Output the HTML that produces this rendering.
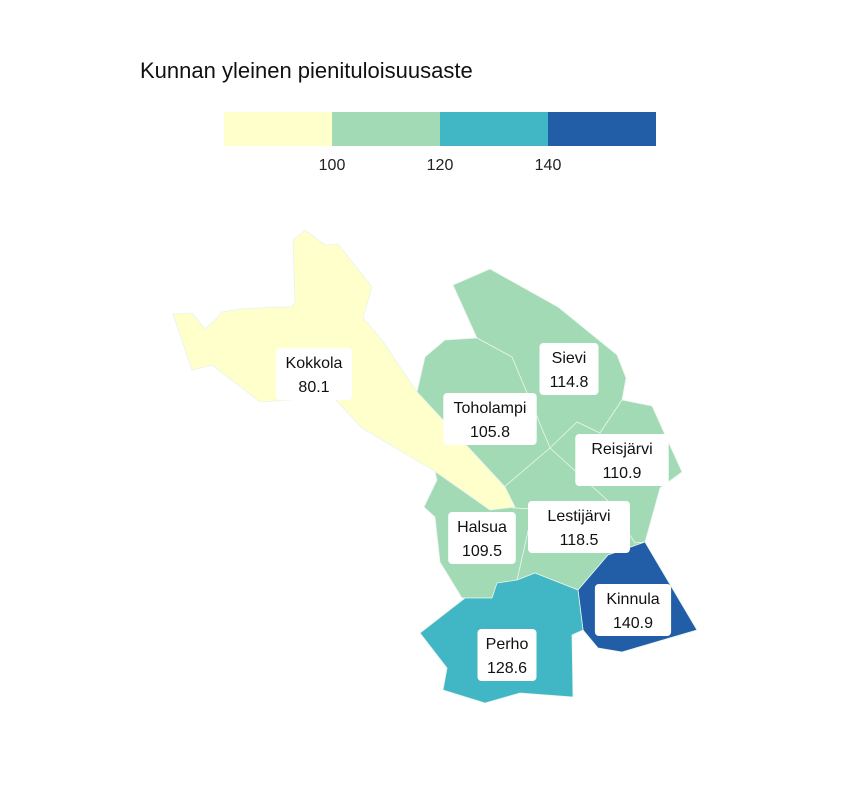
<!DOCTYPE html>
<html><head><meta charset="utf-8"><style>
body{margin:0;background:#fff;}
svg{display:block;font-family:"Liberation Sans",sans-serif;}
</style></head><body>
<svg id="chart" width="864" height="792">
<text x="140" y="78" font-size="22" fill="#111">Kunnan yleinen pienituloisuusaste</text>
<g id="legend"></g>
<g id="map"></g>
<g id="labels"></g>
</svg>
<script>
const municipalities = ["Kokkola","Sievi","Toholampi","Reisjärvi","Lestijärvi","Halsua","Kinnula","Perho"];
const values = [80.1,114.8,105.8,110.9,118.5,109.5,140.9,128.6];
const breaks = [100,120,140];
const colors = ["#ffffcc","#a1dab4","#41b6c4","#225ea8"];
const legendTicks = ["100","120","140"];

const NS="http://www.w3.org/2000/svg";
function colorFor(v){let i=0;while(i<breaks.length&&v>=breaks[i])i++;return colors[i];}
function mk(tag,attrs,parent){const e=document.createElementNS(NS,tag);for(const k in attrs)e.setAttribute(k,attrs[k]);parent.appendChild(e);return e;}

const lg=document.getElementById('legend');
const lx=d=>224+d*108;
colors.forEach((c,i)=>{
  const r=mk('rect',{x:lx(i),y:112,width:108,height:34,fill:c},lg);
  
  
});
legendTicks.forEach((t,i)=>{
  const tx=mk('text',{x:lx(i+1),y:170,'font-size':16,'text-anchor':'middle',fill:'#222'},lg);
  tx.textContent=t;
  
  
});

const shapes={
 "Sievi":"453,285 490,269 558,307 617,355 626,378 622,400 600,433 577,422 550,448 512,357 477,338",
 "Toholampi":"477,338 512,357 550,448 503,488 513,508 505,487 417,392 425,357 445,340",
 "Reisjärvi":"622,400 652,406 682,472 660,488 645,542 635,543 607,500 550,448 577,422 600,433",
 "Lestijärvi":"550,448 607,500 635,543 645,542 608,555 578,590 535,573 517,580 533,509 515,508 503,488",
 "Halsua":"437,480 417,392 505,487 513,508 533,509 517,580 497,585 492,598 462,598 440,562 435,517 424,507",
 "Kokkola":"173,314 192,313 205,329 215,320 222,312 240,309 260,308 273,307 292,307 295,302 293,240 305,230 325,245 338,244 372,287 363,318 382,340 417,392 505,487 515,507 490,510 433,470 362,428 333,397 260,402 212,365 192,370",
 "Kinnula":"578,590 608,555 645,542 697,630 622,652 598,648 583,630",
 "Perho":"578,590 535,573 517,580 497,583 492,598 465,598 420,633 447,668 443,690 485,703 520,693 573,697 572,635 583,630"
};
const labelPos={"Kokkola":[314,374],"Sievi":[569,369],"Toholampi":[490,419],"Reisjärvi":[622,460],"Lestijärvi":[579,527],"Halsua":[482,538],"Kinnula":[633,610],"Perho":[507,655]};
const order=["Sievi","Toholampi","Reisjärvi","Lestijärvi","Halsua","Kokkola","Kinnula","Perho"];
const mp=document.getElementById('map');
order.forEach(n=>{
  const v=values[municipalities.indexOf(n)];
  const p=mk('polygon',{points:shapes[n],fill:colorFor(v),stroke:'#e8f4ec','stroke-width':0.8,'stroke-linejoin':'round'},mp);
  
  
});
const lb=document.getElementById('labels');
municipalities.forEach((n,i)=>{
  const [cx,cy]=labelPos[n];
  const g=mk('g',{},lb);
  
  
  const w=n.length*8.6+16;
  mk('rect',{x:cx-w/2,y:cy-26,width:w,height:52,rx:4,fill:'#fff'},g);
  const t1=mk('text',{x:cx,y:cy-6,'font-size':16,'text-anchor':'middle',fill:'#111'},g);
  t1.textContent=n;
  const t2=mk('text',{x:cx,y:cy+18,'font-size':16,'text-anchor':'middle',fill:'#111'},g);
  t2.textContent=values[i].toFixed(1);
});
</script>
</body></html>
